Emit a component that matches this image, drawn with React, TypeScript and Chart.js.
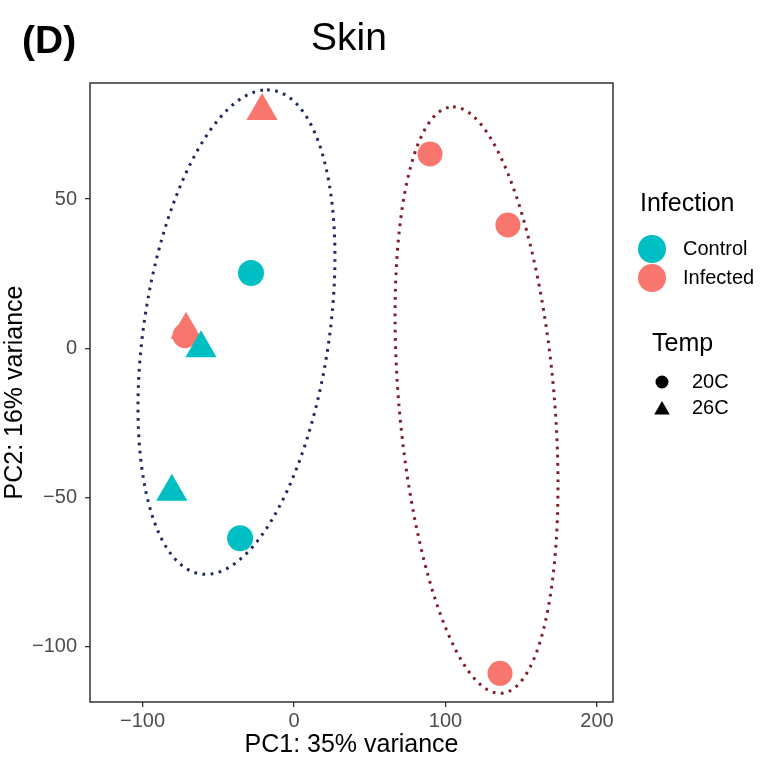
import React, { useEffect, useRef } from 'react';
import { Chart, registerables } from 'chart.js';

Chart.register(...registerables);

const FONT = '"Liberation Sans", Arial, Helvetica, sans-serif';

// Axis settings
const X_TICKS = [-100, 0, 100, 200];
const Y_TICKS = [-100, -50, 0, 50];
const X_RANGE = [-134.7, 210.6];
const Y_RANGE = [-118.6, 88.9];
const X_LABEL = 'PC1: 35% variance';
const Y_LABEL = 'PC2: 16% variance';
const PANEL_TAG = '(D)';
const TITLE = 'Skin';

// Samples (PC1, PC2)
const CONTROL_20C = [
  { x: -28.4, y: 25.2 },
  { x: -35.6, y: -63.7 },
];
const CONTROL_26C = [
  { x: -61.4, y: 0.0 },
  { x: -80.7, y: -48.1 },
];
const INFECTED_20C = [
  { x: 89.8, y: 65.1 },
  { x: 141.2, y: 41.3 },
  { x: 136.0, y: -109.0 },
  { x: -72.0, y: 4.2 },
];
const INFECTED_26C = [
  { x: -21.1, y: 79.5 },
  { x: -71.3, y: 6.2 },
];

// Ellipse parameters: center, cosine term, sine term (data units)
const BLUE_ELLIPSE_CENTER = [-38.0, 5.4];
const BLUE_ELLIPSE_COS = [20.2, 81.2];
const BLUE_ELLIPSE_SIN = [61.8, 0];
const RED_ELLIPSE_CENTER = [120.5, -17.4];
const RED_ELLIPSE_COS = [-15.5, 98.3];
const RED_ELLIPSE_SIN = [51.5, 0];

const CONTROL_COLOR = '#00BFC4';
const INFECTED_COLOR = '#F8766D';
const BLUE_LINE = '#1B2A5C';
const RED_LINE = '#7E1E22';

function ellipseOutline(c: number[], a: number[], b: number[]) {
  const pts: { x: number; y: number }[] = [];
  const n = 360;
  for (let i = 0; i <= n; i++) {
    const t = (i / n) * Math.PI * 2;
    pts.push({
      x: c[0] + a[0] * Math.cos(t) + b[0] * Math.sin(t),
      y: c[1] + a[1] * Math.cos(t) + b[1] * Math.sin(t),
    });
  }
  return pts;
}

const fmt = (v: number) => (v < 0 ? '\u2212' + Math.abs(v) : String(v));

const decorPlugin = {
  id: 'decor',
  afterDraw(chart: any) {
    const { ctx, chartArea: a } = chart;
    ctx.save();
    // panel border
    ctx.strokeStyle = '#333333';
    ctx.lineWidth = 1.5;
    ctx.strokeRect(a.left, a.top, a.right - a.left, a.bottom - a.top);

    // titles
    ctx.fillStyle = '#000';
    ctx.textBaseline = 'alphabetic';
    ctx.textAlign = 'left';
    ctx.font = `bold 39px ${FONT}`;
    ctx.fillText(PANEL_TAG, 22, 53);
    ctx.textAlign = 'center';
    ctx.font = `39px ${FONT}`;
    ctx.fillText(TITLE, 349, 50);

    // legend titles
    ctx.textAlign = 'left';
    ctx.font = `25px ${FONT}`;
    ctx.fillText('Infection', 640, 211);
    ctx.fillText('Temp', 652, 351);

    const circle = (x: number, y: number, r: number, color: string) => {
      ctx.beginPath();
      ctx.arc(x, y, r, 0, Math.PI * 2);
      ctx.fillStyle = color;
      ctx.fill();
    };
    const tri = (x: number, y: number, r: number, color: string) => {
      ctx.beginPath();
      for (let k = 0; k < 3; k++) {
        const ang = (k * 2 * Math.PI) / 3;
        const px = x + Math.sin(ang) * r;
        const py = y - Math.cos(ang) * r;
        if (k === 0) ctx.moveTo(px, py);
        else ctx.lineTo(px, py);
      }
      ctx.closePath();
      ctx.fillStyle = color;
      ctx.fill();
    };

    circle(652, 249, 14, CONTROL_COLOR);
    circle(652, 278, 14, INFECTED_COLOR);
    circle(662, 382, 6.5, '#000');
    tri(662, 410, 9, '#000');

    ctx.fillStyle = '#000';
    ctx.font = `20px ${FONT}`;
    ctx.textBaseline = 'middle';
    ctx.fillText('Control', 683, 249);
    ctx.fillText('Infected', 683, 278);
    ctx.fillText('20C', 692, 382);
    ctx.fillText('26C', 692, 408);
    ctx.restore();
  },
};

export default function App() {
  const ref = useRef<HTMLCanvasElement | null>(null);

  useEffect(() => {
    if (!ref.current) return;
    const ellipseStyle = (color: string) => ({
      showLine: true,
      borderColor: color,
      borderWidth: 3,
      borderDash: [2.7, 5.5],
      borderCapStyle: 'butt' as const,
      pointRadius: 0,
      pointHoverRadius: 0,
      fill: false,
      tension: 0,
    });
    const pointStyle = (color: string, shape: string, r: number) => ({
      showLine: false,
      pointStyle: shape,
      pointRadius: r,
      pointHoverRadius: r,
      backgroundColor: color,
      borderColor: color,
      borderWidth: 0,
    });

    const chart = new Chart(ref.current, {
      type: 'scatter',
      data: {
        datasets: [
          { label: 'ellipse1', data: ellipseOutline(BLUE_ELLIPSE_CENTER, BLUE_ELLIPSE_COS, BLUE_ELLIPSE_SIN), ...ellipseStyle(BLUE_LINE) } as any,
          { label: 'ellipse2', data: ellipseOutline(RED_ELLIPSE_CENTER, RED_ELLIPSE_COS, RED_ELLIPSE_SIN), ...ellipseStyle(RED_LINE) } as any,
          { label: 'Control 26C', data: CONTROL_26C, ...pointStyle(CONTROL_COLOR, 'triangle', 18) } as any,
          { label: 'Control 20C', data: CONTROL_20C, ...pointStyle(CONTROL_COLOR, 'circle', 13) } as any,
          { label: 'Infected 26C', data: INFECTED_26C, ...pointStyle(INFECTED_COLOR, 'triangle', 18) } as any,
          { label: 'Infected 20C', data: INFECTED_20C, ...pointStyle(INFECTED_COLOR, 'circle', 12.5) } as any,
        ],
      },
      options: {
        responsive: false,
        animation: false,
        events: [],
        layout: { padding: { top: 83, right: 149, bottom: 0, left: 0 } },
        plugins: { legend: { display: false }, tooltip: { enabled: false }, title: { display: false } },
        scales: {
          x: {
            type: 'linear',
            min: X_RANGE[0],
            max: X_RANGE[1],
            afterFit: (s: any) => { s.height = 58; },
            afterBuildTicks: (s: any) => { s.ticks = X_TICKS.map((v) => ({ value: v })); },
            border: { display: false },
            grid: { drawOnChartArea: false, drawTicks: true, tickLength: 5, color: '#333333', lineWidth: 1.3 },
            ticks: {
              color: '#4d4d4d',
              font: { family: FONT, size: 20 },
              padding: 2,
              maxRotation: 0,
              autoSkip: false,
              callback: (v: any) => fmt(Number(v)),
            },
            title: {
              display: true,
              text: X_LABEL,
              color: '#000',
              font: { family: FONT, size: 25 },
              padding: { top: 0, bottom: 0 },
            },
          },
          y: {
            type: 'linear',
            min: Y_RANGE[0],
            max: Y_RANGE[1],
            afterFit: (s: any) => { s.width = 90; },
            afterBuildTicks: (s: any) => { s.ticks = Y_TICKS.map((v) => ({ value: v })); },
            border: { display: false },
            grid: { drawOnChartArea: false, drawTicks: true, tickLength: 5, color: '#333333', lineWidth: 1.3 },
            ticks: {
              color: '#4d4d4d',
              font: { family: FONT, size: 20 },
              padding: 8,
              autoSkip: false,
              callback: (v: any) => fmt(Number(v)),
            },
            title: {
              display: true,
              text: Y_LABEL,
              color: '#000',
              font: { family: FONT, size: 25 },
              padding: { top: 0, bottom: 0 },
            },
          },
        },
      },
      plugins: [decorPlugin],
    } as any);
    return () => chart.destroy();
  }, []);

  return (
    <div style={{ position: 'fixed', left: 0, top: 0, width: 762, height: 760, background: '#fff' }}>
      <canvas ref={ref} width={762} height={760} style={{ display: 'block' }} />
    </div>
  );
}
